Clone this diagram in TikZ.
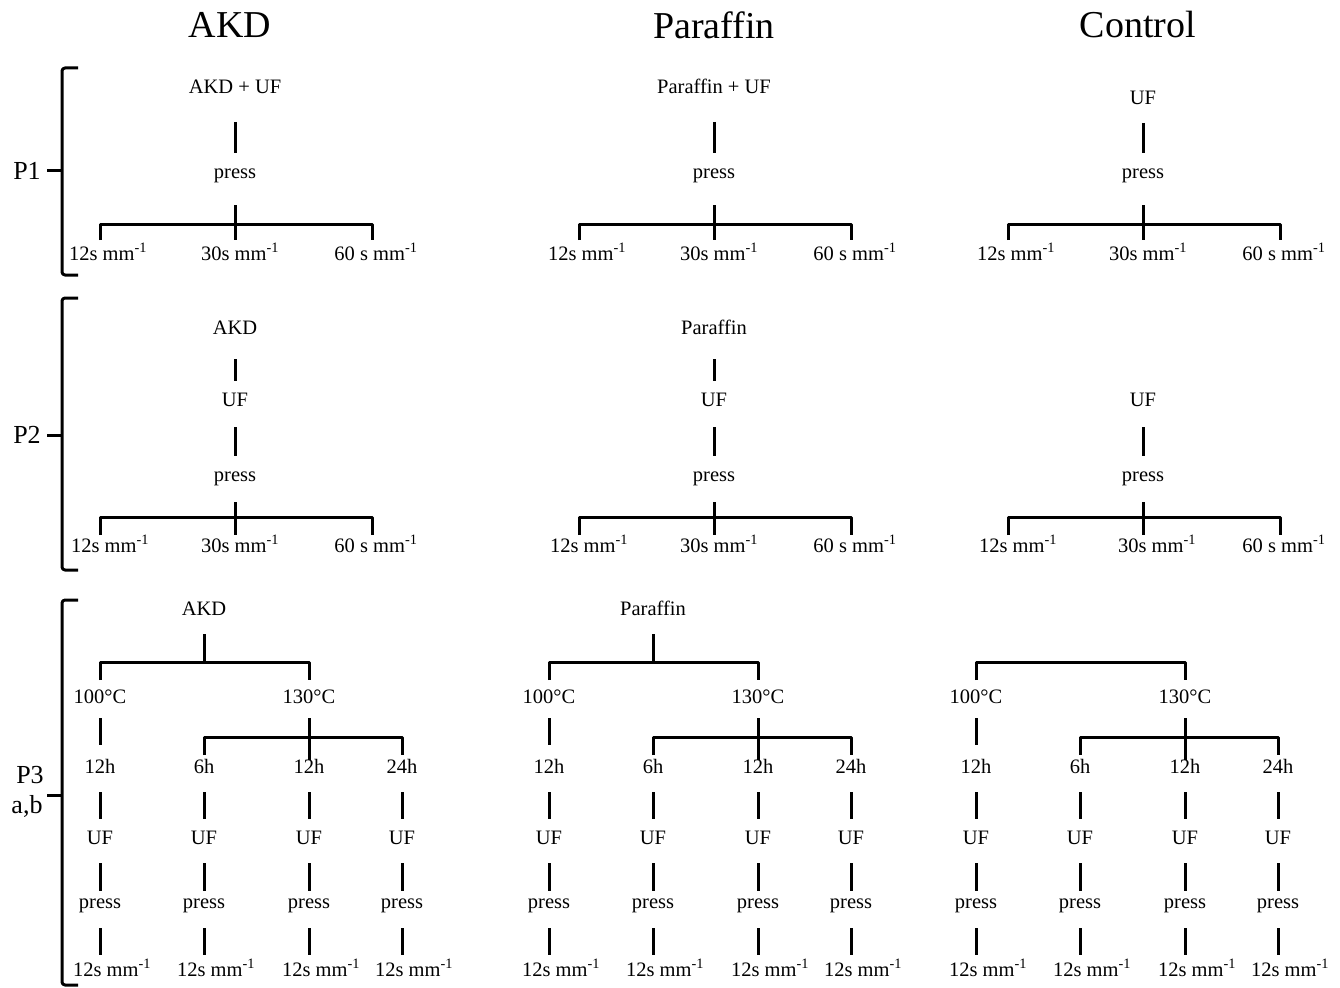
\documentclass[tikz,border=0pt]{standalone}
\usepackage{fontspec}
\setmainfont{Liberation Serif}
\usetikzlibrary{calc}

\begin{document}
\begin{tikzpicture}[x=1pt, y=-1pt, line width=3pt, line join=round]
    \tikzset{
      lbl/.style={inner sep=1pt, text height=15pt, text depth=2pt, font=\fontsize{20.5}{22}\selectfont},
      head/.style={inner sep=0pt, font=\fontsize{38}{40}\selectfont},
      part/.style={inner sep=0pt, font=\fontsize{26}{28}\selectfont},
      link/.style={shorten <=14pt, shorten >=8pt},
    }
    \useasboundingbox (0,0) rectangle (1340,987);

    % column headings
    \node [head] (hakd) at (230,25) {AKD};
    \node [head] (hpar) at (714,25) {Paraffin};
    \node [head] (hcon) at (1138,25) {Control};

    % brackets on the left
    \foreach \top/\mid/\bot in {68/171/275, 298/435/570, 600/795/985} {
      \draw [rounded corners=3pt] (78,\top) -- (62,\top) -- (62,\bot) -- (78,\bot);
      \draw (62,\mid) -- (47,\mid);
    }
    \node [part] (p1) at (27,171) {P1};
    \node [part] (p2) at (27,435) {P2};
    \node [part] (p3) at (30,775) {P3};
    \node [part] (p3ab) at (27,806) {a,b};

    % P1
    \foreach \n/\cx/\txt/\ty/\sh in {a/235/AKD + UF/87/24, p/714/Paraffin + UF/87/24, c/1143/UF/98/14} {
      \node [lbl] (\n1top) at (\cx,\ty) {\txt};
      \node [lbl] (\n1press) at (\cx,172) {press};
      \coordinate (\n1mid) at (\cx,240);
      \coordinate (\n1l) at (\cx-135,240);
      \coordinate (\n1r) at (\cx+137,240);
      \draw [link, shorten <=\sh pt] (\n1top) -- (\n1press);
      \draw [shorten <=22pt] (\n1press) -- (\n1mid);
      \draw (\n1l) -- ++(0,-16) -| (\n1r);
      \node [lbl] (\n1s12) at (\cx-127,254) {12s mm\textsuperscript{-1}};
      \node [lbl] (\n1s30) at (\cx+5,254) {30s mm\textsuperscript{-1}};
      \node [lbl] (\n1s60) at (\cx+141,254) {60 s mm\textsuperscript{-1}};
    }

    % P2
    \foreach \n/\cx/\txt in {a/235/AKD, p/714/Paraffin} {
      \node [lbl] (\n2top) at (\cx,328) {\txt};
    }
    \foreach \n/\cx/\dd in {a/235/5, p/714/5, c/1143/14} {
      \node [lbl] (\n2uf) at (\cx,400) {UF};
      \node [lbl] (\n2press) at (\cx,475) {press};
      \coordinate (\n2mid) at (\cx,535);
      \coordinate (\n2l) at (\cx-135,535);
      \coordinate (\n2r) at (\cx+137,535);
      \draw [link, shorten <=16pt] (\n2uf) -- (\n2press);
      \draw [shorten <=16pt] (\n2press) -- (\n2mid);
      \draw (\n2l) -- ++(0,-18) -| (\n2r);
      \node [lbl] (\n2s12) at (\cx-125,546) {12s mm\textsuperscript{-1}};
      \node [lbl] (\n2s30) at (\cx+\dd,546) {30s mm\textsuperscript{-1}};
      \node [lbl] (\n2s60) at (\cx+141,546) {60 s mm\textsuperscript{-1}};
    }
    \draw [link, shorten <=20pt] (a2top) -- (a2uf);
    \draw [link, shorten <=20pt] (p2top) -- (p2uf);

    % P3
    \foreach \n/\dx/\txt in {a/0/AKD, p/449/Paraffin} {
      \node [lbl] (\n3top) at (204+\dx,609) {\txt};
      \coordinate (\n3join) at (204+\dx,662);
      \draw [link, shorten >=0pt] (\n3top) -- (\n3join);
    }
    \foreach \n/\dx in {a/0, p/449, c/876} {
      \node [lbl] (\n3hot) at (100+\dx,697) {100°C};
      \node [lbl] (\n3hi) at (309+\dx,697) {130°C};
      \coordinate (\n3l) at (100+\dx,680);
      \coordinate (\n3r) at (309+\dx,680);
      \draw (\n3l) -- ++(0,-18) -| (\n3r);
      \coordinate (\n3hmid) at (309+\dx,760);
      \coordinate (\n3bl) at (204+\dx,755);
      \coordinate (\n3br) at (402+\dx,755);
      \draw [shorten <=10pt] (\n3hi) -- (\n3hmid);
      \draw (\n3bl) -- ++(0,-18) -| (\n3br);
      \foreach \k/\x/\h in {1/100/12h, 2/204/6h, 3/309/12h, 4/402/24h} {
        \node [lbl] (\n3h\k) at (\x+\dx,767) {\h};
        \node [lbl] (\n3uf\k) at (\x+\dx,838) {UF};
        \node [lbl] (\n3pr\k) at (\x+\dx,902) {press};
        \node [lbl] (\n3s\k) at (\x+\dx+12,970) {12s mm\textsuperscript{-1}};
        \draw [link] (\n3h\k) -- (\n3uf\k);
        \draw [link, shorten >=0pt] (\n3uf\k) -- (\n3pr\k);
        \draw [link, shorten <=15pt, shorten >=15pt] (\n3pr\k) -- (\n3pr\k |- \n3s\k);
      }
      \draw [link, shorten <=10pt, shorten >=11pt] (\n3hot) -- (\n3h1);
    }
  \end{tikzpicture}
\end{document}
